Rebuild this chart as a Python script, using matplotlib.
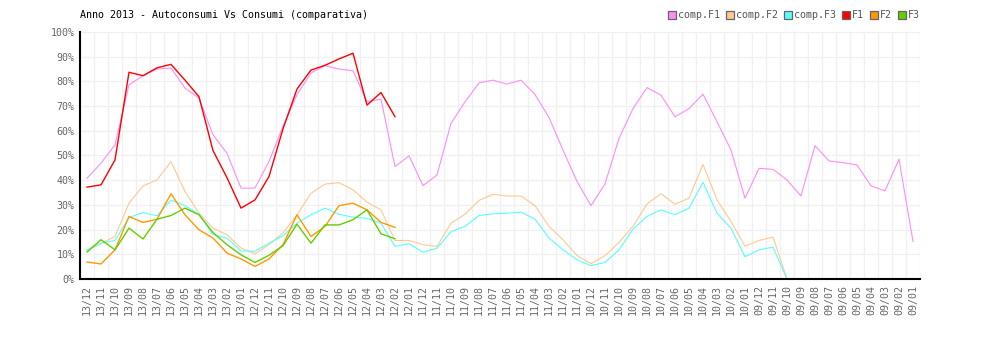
import numpy as np
import matplotlib
matplotlib.use("Agg")
import matplotlib.pyplot as plt
from matplotlib.lines import Line2D

# month labels, newest first
months = [f"{y:02d}/{m:02d}" for y in (13, 12, 11, 10, 9) for m in range(12, 0, -1)]

nan = np.nan

comp_f1 = [40.8, 46.9, 54.3, 78.6, 82.3, 85.0, 85.4, 77.3, 73.2, 58.4, 50.9, 36.8,
           36.8, 47.6, 61.8, 74.6, 83.4, 86.4, 85.0, 84.3, 71.8, 72.8, 45.5, 49.9,
           37.8, 42.1, 63.0, 71.7, 79.4, 80.5, 78.9, 80.5, 74.7, 65.4, 52.2, 39.5,
           29.7, 38.5, 56.9, 69.0, 77.5, 74.4, 65.7, 69.0, 74.8, 63.7, 52.2, 32.7,
           44.8, 44.4, 40.1, 33.6, 54.0, 47.8, 47.1, 46.2, 37.7, 35.7, 48.5, 15.2]

comp_f2 = [11.6, 14.3, 17.2, 30.7, 37.7, 40.1, 47.5, 35.4, 26.6, 20.6, 17.9, 12.5,
           10.2, 13.9, 18.6, 26.0, 34.7, 38.4, 39.0, 36.1, 31.1, 28.0, 15.6, 15.6,
           13.9, 13.2, 22.6, 26.2, 31.8, 34.3, 33.6, 33.6, 29.7, 21.3, 15.9, 9.5,
           6.2, 9.4, 14.8, 21.3, 30.4, 34.5, 30.3, 32.7, 46.4, 32.0, 23.3, 13.3,
           15.6, 17.0, 0.0, nan, nan, nan, nan, nan, nan, nan, nan, nan]

comp_f3 = [11.8, 14.5, 15.6, 24.9, 26.9, 25.6, 32.0, 29.7, 26.2, 17.9, 16.6, 11.4,
           11.2, 14.5, 17.5, 22.6, 26.0, 28.7, 26.2, 25.0, 24.6, 22.6, 13.2, 14.3,
           10.8, 12.5, 19.2, 21.3, 25.7, 26.4, 26.6, 27.1, 24.2, 16.6, 11.8, 7.8,
           5.4, 6.7, 11.8, 20.2, 25.3, 28.0, 26.0, 28.7, 39.2, 26.6, 20.6, 9.0,
           11.8, 12.9, 0.0, nan, nan, nan, nan, nan, nan, nan, nan, nan]

f1 = [37.2, 38.1, 48.2, 83.7, 82.3, 85.5, 86.9, 80.5, 73.8, 52.0, 41.0, 28.7,
      32.0, 41.5, 60.8, 76.9, 84.6, 86.5, 89.1, 91.4, 70.4, 75.5, 65.7]

f2 = [6.9, 6.1, 11.8, 25.3, 22.9, 24.2, 34.5, 26.0, 19.9, 16.6, 10.5, 8.1,
      5.1, 8.1, 13.9, 26.0, 17.2, 21.3, 29.7, 30.7, 28.0, 22.9, 20.9]

f3 = [10.9, 15.9, 11.8, 20.6, 16.2, 24.2, 25.7, 28.7, 26.0, 18.8, 13.9, 9.8,
      6.7, 9.6, 13.5, 22.2, 14.5, 21.9, 21.9, 24.0, 28.0, 18.3, 16.3]

series = [("comp.F1", comp_f1, "#ff8cf8", 0.8),
          ("comp.F2", comp_f2, "#ffc890", 0.8),
          ("comp.F3", comp_f3, "#55ffff", 0.8),
          ("F1", f1, "#ff0000", 1.0),
          ("F2", f2, "#ff9900", 1.0),
          ("F3", f3, "#66cc00", 1.0)]

plt.rcParams['font.family'] = ['DejaVu Sans Mono']
plt.rcParams['font.size'] = 7.2

fig = plt.figure(figsize=(10, 3.4), dpi=100)
ax = fig.add_axes([0.08, 0.1794, 0.84, 0.7265])

x = np.arange(len(months))
for name, vals, col, lw in series:
    ax.plot(x[:len(vals)], vals, color=col, lw=lw, label=name, zorder=3)

ax.set_xlim(-0.5, len(months) - 0.5)
ax.set_ylim(0, 100)
ax.set_yticks(range(0, 101, 10))
ax.set_yticklabels([f"{v}%" for v in range(0, 101, 10)])
ax.set_xticks(x)
ax.set_xticklabels(months, rotation=90)
ax.set_xticks(np.arange(-0.5, len(months), 1), minor=True)
ax.tick_params(axis='both', which='both', length=0, colors='#666666', labelsize=7.2)
ax.tick_params(axis='x', pad=4)
ax.tick_params(axis='y', pad=4)

ax.grid(True, which='minor', axis='x', color='#f0f0f0', lw=1, zorder=0)
ax.grid(True, which='major', axis='y', color='#f0f0f0', lw=1, zorder=0)
ax.grid(False, which='major', axis='x')

for s in ('top', 'right'):
    ax.spines[s].set_visible(False)
for s in ('left', 'bottom'):
    ax.spines[s].set_color('black')
    ax.spines[s].set_linewidth(1.5)
    ax.spines[s].set_zorder(5)

fig.text(0.08, 0.955, "Anno 2013 - Autoconsumi Vs Consumi (comparativa)",
         fontsize=7.2, color='black', va='center', ha='left')

handles = [Line2D([], [], ls='none', marker='s', markersize=5.5,
                  markerfacecolor=col, markeredgecolor='#666666', markeredgewidth=0.9)
           for _, _, col, _ in series]
fig.legend(handles, [s[0] for s in series], loc='center right',
           bbox_to_anchor=(0.925, 0.955), ncol=6, frameon=False,
           handlelength=0.8, handletextpad=0.2, columnspacing=0.6,
           borderpad=0, fontsize=7.2, labelcolor='#555555')

fig.savefig("out.png", dpi=100)
